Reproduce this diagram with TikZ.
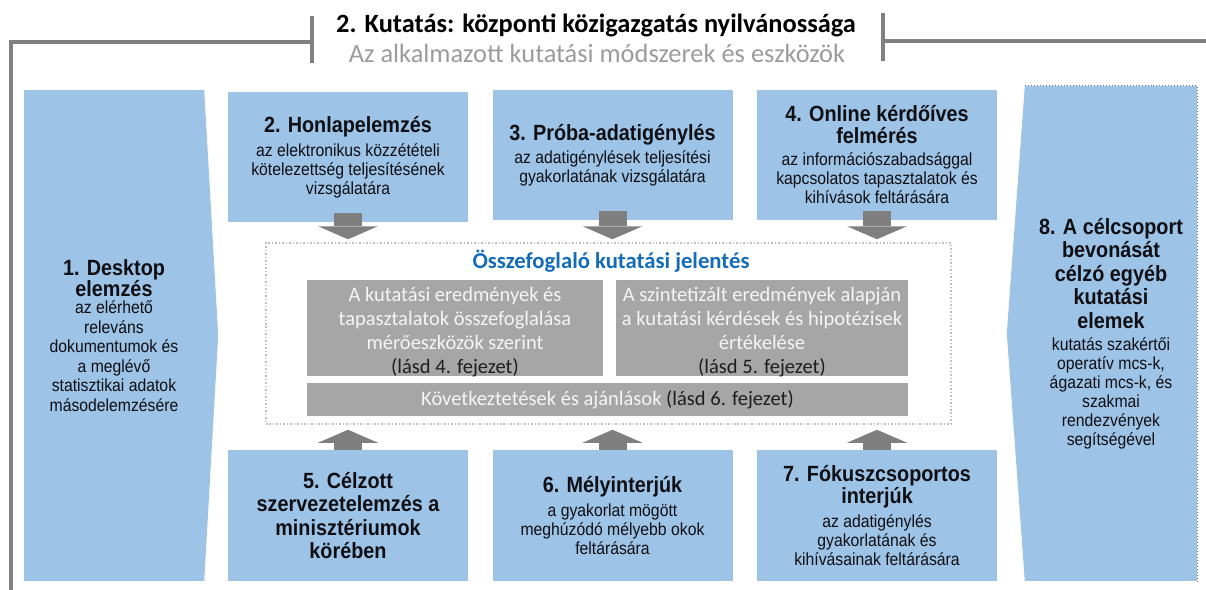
\documentclass[tikz,border=0pt]{standalone}
\usepackage{fontspec}
\setmainfont{Liberation Sans}[FakeStretch=0.9]
\newfontfamily\calibri{Carlito}
\usepackage{tikz}
\usetikzlibrary{positioning,arrows.meta}

\definecolor{boxblue}{RGB}{157,195,230}
\definecolor{framegray}{RGB}{128,128,128}
\definecolor{arrowgray}{RGB}{127,127,127}
\definecolor{resgray}{RGB}{166,166,166}
\definecolor{dotgray}{RGB}{191,191,191}
\definecolor{dotblue}{RGB}{95,115,140}
\definecolor{reportblue}{RGB}{20,108,185}
\definecolor{subgray}{RGB}{155,155,155}
\definecolor{inkdark}{RGB}{15,15,20}
\definecolor{lasdink}{RGB}{30,30,30}

\newcommand{\boxhead}[1]{{\bfseries\fontsize{22bp}{23.5bp}\selectfont #1}}
\newcommand{\lasd}[1]{{\color{lasdink}#1}}

\begin{document}
\begin{tikzpicture}[
    bluebox/.style={rectangle, fill=boxblue, inner sep=0pt, align=center, text=inkdark,
      font=\fontsize{17.5bp}{19bp}\selectfont\setlength{\lineskiplimit}{-30bp}},
    resbox/.style={rectangle, fill=resgray, inner sep=0pt},
    restext/.style={align=center, inner sep=0pt, text=white!96!black,
      font=\calibri\fontsize{20.5bp}{24bp}\selectfont\setlength{\lineskiplimit}{-30bp}},
    barrow/.style={line width=28bp, draw=arrowgray,
      -{Triangle[width=60bp,length=13bp,line width=0pt]}},
    frameline/.style={draw=framegray, line width=4bp}
  ]
  \useasboundingbox (0bp,0bp) rectangle (1206bp,-590bp);

  % frame and heading
  \draw[frameline] (11bp,-590bp) -- (11bp,-42bp) -- (312bp,-42bp);
  \draw[frameline] (312bp,-16bp) -- (312bp,-63bp);
  \draw[frameline] (883bp,-13bp) -- (883bp,-61bp);
  \draw[frameline] (883bp,-41bp) -- (1206bp,-41bp);
  \node (title)    at (596bp,-32bp) [anchor=base, font=\calibri\bfseries\fontsize{26.4bp}{30bp}\selectfont]
    {2. Kutatás: központi közigazgatás nyilvánossága};
  \node (subtitle) at (597bp,-62bp) [anchor=base, text=subgray, font=\calibri\fontsize{26.4bp}{30bp}\selectfont]
    {Az alkalmazott kutatási módszerek és eszközök};

  % 1. and 8. side boxes
  \node (desk) at (114bp,-335.5bp) [bluebox, minimum width=180bp, minimum height=491bp]
    {\boxhead{1. Desktop}\\[2bp] \boxhead{elemzés}\\[-1.5bp] az elérhető\\[0.5bp] releváns\\[0.5bp]
     dokumentumok és\\[0.5bp] a meglévő\\[0.5bp] statisztikai adatok\\[0.5bp] másodelemzésére};
  \fill[boxblue] (desk.north east) -- ([xshift=14bp]desk.east) -- (desk.south east) -- cycle;

  \node (grp) at (1111bp,-333.5bp) [bluebox, minimum width=172bp, minimum height=495bp]
    {\boxhead{8. A célcsoport}\\[4.5bp] \boxhead{bevonását}\\[4.5bp] \boxhead{célzó egyéb}\\[4.5bp]
     \boxhead{kutatási}\\[4.5bp] \boxhead{elemek}\\[3bp] kutatás szakértői\\ operatív mcs-k,\\
     ágazati mcs-k, és\\ szakmai\\ rendezvények\\ segítségével};
  \fill[boxblue] (grp.north west) -- ([xshift=-18bp]grp.west) -- (grp.south west) -- cycle;
  \draw[dotted, draw=dotblue, line width=1bp] (grp.north west) -- (grp.north east) -- (grp.south east);

  % upper boxes
  \node (hon) at (348bp,-157bp) [bluebox, minimum width=240bp, minimum height=130bp]
    {\boxhead{2. Honlapelemzés}\\[4.5bp] az elektronikus közzétételi\\ kötelezettség teljesítésének\\ vizsgálatára};
  \node (proba) at (612.5bp,-155bp) [bluebox, minimum width=240bp, minimum height=130bp]
    {\boxhead{3. Próba-adatigénylés}\\[4.5bp] az adatigénylések teljesítési\\ gyakorlatának vizsgálatára};
  \node (online) at (877bp,-155bp) [bluebox, minimum width=240bp, minimum height=130bp]
    {\boxhead{4. Online kérdőíves}\\[3bp] \boxhead{felmérés}\\[3bp] az információszabadsággal\\
     kapcsolatos tapasztalatok és\\ kihívások feltárására};

  % summary report
  \node (report) at (608.5bp,-333.5bp) [draw=dotgray, dotted, line width=1.5bp, inner sep=0pt,
    minimum width=685bp, minimum height=181bp] {};
  \node (reptitle) at (611bp,-268bp) [anchor=base, text=reportblue,
    font=\calibri\bfseries\fontsize{22.7bp}{26bp}\selectfont] {Összefoglaló kutatási jelentés};
  \node (resA) at (455bp,-328bp) [resbox, minimum width=296bp, minimum height=96bp] {};
  \node (resB) at (762bp,-328bp) [resbox, minimum width=292bp, minimum height=96bp] {};
  \node (concl) at (607.5bp,-399.5bp) [resbox, minimum width=601bp, minimum height=33bp] {};
  \node (resAtxt) at ([yshift=-4bp]resA.center) [restext]
    {A kutatási eredmények és\\ tapasztalatok összefoglalása\\ mérőeszközök szerint\\ \lasd{(lásd 4. fejezet)}};
  \node (resBtxt) at ([yshift=-4bp]resB.center) [restext]
    {A szintetizált eredmények alapján\\ a kutatási kérdések és hipotézisek\\ értékelése\\ \lasd{(lásd 5. fejezet)}};
  \node (concltxt) at (concl.center) [restext]
    {Következtetések és ajánlások \lasd{(lásd 6. fejezet)}};

  % lower boxes
  \node (celz) at (348bp,-515.5bp) [bluebox, minimum width=240bp, minimum height=131bp]
    {\boxhead{5. Célzott}\\[4.5bp] \boxhead{szervezetelemzés a}\\[4.5bp] \boxhead{minisztériumok}\\[4.5bp]
     \boxhead{körében}};
  \node (mely) at (612.5bp,-515.5bp) [bluebox, minimum width=240bp, minimum height=131bp]
    {\boxhead{6. Mélyinterjúk}\\[4.5bp] a gyakorlat mögött\\ meghúzódó mélyebb okok\\ feltárására};
  \node (fokusz) at (877bp,-515.5bp) [bluebox, minimum width=240bp, minimum height=131bp]
    {\boxhead{7. Fókuszcsoportos}\\[3bp] \boxhead{interjúk}\\[4.5bp] az adatigénylés\\
     gyakorlatának és\\ kihívásainak feltárására};

  % block arrows
  \draw[barrow, shorten <=-9bp, shorten >=3bp] (hon.south) -- (hon.south |- report.north);
  \draw[barrow, shorten <=-9bp, shorten >=3bp] (proba.south) -- (proba.south |- report.north);
  \draw[barrow, shorten <=-9bp, shorten >=3bp] (online.south) -- (online.south |- report.north);
  \draw[barrow, shorten >=5bp] (celz.north) -- (celz.north |- report.south);
  \draw[barrow, shorten >=5bp] (mely.north) -- (mely.north |- report.south);
  \draw[barrow, shorten >=5bp] (fokusz.north) -- (fokusz.north |- report.south);
\end{tikzpicture}
\end{document}
